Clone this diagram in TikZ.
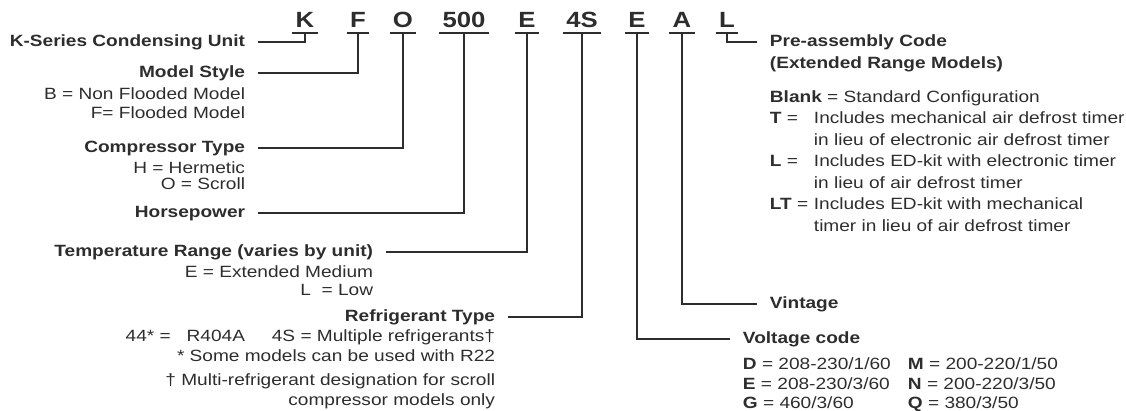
\documentclass[tikz,border=0pt]{standalone}
\usepackage{fontspec}
\setmainfont{Liberation Sans}[FakeStretch=1.17]
\usetikzlibrary{calc}
\definecolor{inkGray}{RGB}{45,45,45}
\tikzset{
	code/.style={anchor=base,inner xsep=2.5pt,inner ysep=4pt,font=\fontsize{22}{26}\selectfont\bfseries},
	title/.style={inner xsep=12pt,inner ysep=0pt,text height=12pt,text depth=3.5pt,font=\fontsize{16.3}{19}\selectfont\bfseries},
	desc/.style={anchor=north east,align=right,inner sep=0pt,font=\fontsize{16.3}{#1}\selectfont},
	desc/.default=19,
	table/.style={anchor=north west,inner sep=0pt,font=\fontsize{16.3}{#1}\selectfont},
}

\begin{document}
\begin{tikzpicture}[x=1pt,y=-1pt,line width=1.9pt,color=inkGray]
\useasboundingbox (0,0) rectangle (1126,411);
% model number
\node[code] (kK) at (305,28){K};
\node[code] (kF) at (358,28){F};
\node[code] (kO) at (403,28){O};
\node[code] (kHp) at (464,28){500};
\node[code] (kTemp) at (527,28){E};
\node[code] (kRef) at (582,28){4S};
\node[code] (kVolt) at (637,28){E};
\node[code] (kVint) at (682,28){A};
\node[code] (kPre) at (727,28){L};
\foreach \k in {kK,kF,kO,kHp,kTemp,kRef,kVolt,kVint,kPre}
	\draw (\k.south west) -- (\k.south east);
% left side
\node[title,anchor=east] (lKser) at (258,42){K-Series Condensing Unit};
\node[title,anchor=east] (lStyle) at (258,73){Model Style};
\node[desc] (dStyle) at (246,86.7){B = Non Flooded Model\\F= Flooded Model};
\node[title,anchor=east] (lComp) at (258,148){Compressor Type};
\node[desc=16] (dComp) at (246,160.7){H = Hermetic\\O = Scroll};
\node[title,anchor=east] (lHp) at (258,213){Horsepower};
\node[title,anchor=east] (lTemp) at (386,252){Temperature Range (varies by unit)};
\node[desc=18] (dTemp) at (374,264.7){E = Extended Medium\\L \ = Low};
\node[title,anchor=east] (lRef) at (508,317){Refrigerant Type};
\node[desc=20.5] (dRef) at (496,328.7){44* =\ \ \ R404A\quad\ \ 4S = Multiple refrigerants\textdagger\\* Some models can be used with R22\\[3pt]\textdagger{} Multi-refrigerant designation for scroll\\compressor models only};
% right side
\node[title,anchor=west] (lPre) at (757,42){Pre-assembly Code};
\node[title,anchor=west] (lPreExt) at (757,64){(Extended Range Models)};
\node[table=21.5] (dPre) at (769,86.5){\begin{tabular}{@{}p{44pt}@{}l@{}}
	\multicolumn{2}{@{}l@{}}{\textbf{Blank} = Standard Configuration}\\
	\textbf{T} = & Includes mechanical air defrost timer\\
	& in lieu of electronic air defrost timer\\
	\textbf{L} = & Includes ED-kit with electronic timer\\
	& in lieu of air defrost timer\\
	\textbf{LT} = & Includes ED-kit with mechanical\\
	& timer in lieu of air defrost timer
\end{tabular}};
\node[title,anchor=west] (lVint) at (757,304){Vintage};
\node[title,anchor=west] (lVolt) at (730,339){Voltage code};
\node[table=19.5] (dVolt) at (742,355){\begin{tabular}{@{}p{165pt}@{}l@{}}
	\textbf{D} = 208-230/1/60 & \textbf{M} = 200-220/1/50\\
	\textbf{E} = 208-230/3/60 & \textbf{N} = 200-220/3/50\\
	\textbf{G} = 460/3/60 & \textbf{Q} = 380/3/50
\end{tabular}};
% connectors
\draw (kK.south) |- (lKser.east);
\draw (kF.south) |- (lStyle.east);
\draw (kO.south) |- (lComp.east);
\draw (kHp.south) |- (lHp.east);
\draw (kTemp.south) |- (lTemp.east);
\draw (kRef.south) |- (lRef.east);
\draw (kVolt.south) |- (lVolt.west);
\draw (kVint.south) |- (lVint.west);
\draw (kPre.south) |- (lPre.west);
\end{tikzpicture}
\end{document}
